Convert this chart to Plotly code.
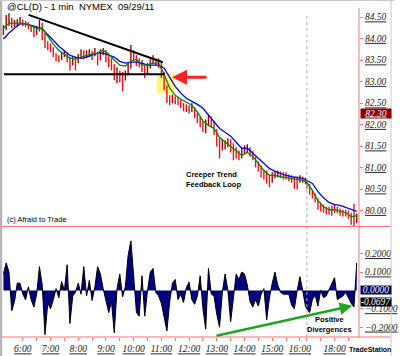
import plotly.graph_objects as go
import pandas as pd

# ---------------- data ----------------
DAY = "2011-09-29 "
CHART_START = pd.Timestamp(DAY + "05:16")
BREAK_START = pd.Timestamp(DAY + "16:15")
BREAK_END = pd.Timestamp(DAY + "17:00")

# 6-minute bars (session 1 then session 2)
session1_times = pd.date_range(DAY + "05:18", DAY + "16:12", freq="6min")
session2_times = pd.date_range(DAY + "17:00", DAY + "18:48", freq="6min")
bar_times = list(session1_times) + list(session2_times)

price_close = [
    84.20, 84.43, 84.48, 84.34, 84.36, 84.38, 84.43, 84.36, 84.34, 84.29,
    84.24, 84.13, 84.17, 84.36, 84.13, 83.87, 83.85, 83.80, 83.66, 83.57,
    83.52, 83.59, 83.66, 83.57, 83.43, 83.50, 83.45, 83.54, 83.66, 83.61,
    83.64, 83.66, 83.61, 83.68, 83.50, 83.66, 83.71, 83.59, 83.45, 83.40,
    83.17, 83.19, 83.15, 83.03, 83.15, 83.31, 83.68, 83.61, 83.45, 83.43,
    83.36, 83.26, 83.31, 83.43, 83.50, 83.45, 83.43, 83.22, 82.91, 82.63,
    82.57, 82.61, 82.57, 82.54, 82.47, 82.40, 82.38, 82.36, 82.38, 82.26,
    82.15, 82.05, 81.94, 81.98, 82.12, 82.08, 81.89, 81.63, 81.52, 81.54,
    81.54, 81.59, 81.56, 81.40, 81.35, 81.28, 81.33, 81.42, 81.45, 81.38,
    81.24, 81.12, 81.03, 80.91, 80.84, 80.77, 80.68, 80.77, 80.84, 80.86,
    80.84, 80.82, 80.82, 80.77, 80.75, 80.70, 80.70, 80.75, 80.72, 80.68,
    80.61, 80.47, 80.37, 80.28, 80.14, 80.07, 80.02, 80.00, 80.00, 80.00,
    80.05, 80.00, 79.95, 79.95, 79.93, 79.91, 79.81, 79.72, 79.84,
]
price_high = [
    84.31, 84.55, 84.59, 84.48, 84.43, 84.45, 84.50, 84.43, 84.41, 84.38,
    84.31, 84.24, 84.27, 84.43, 84.36, 84.13, 83.94, 83.89, 83.80, 83.66,
    83.61, 83.68, 83.73, 83.68, 83.57, 83.59, 83.57, 83.64, 83.75, 83.73,
    83.73, 83.75, 83.71, 83.78, 83.68, 83.75, 83.78, 83.73, 83.59, 83.54,
    83.40, 83.33, 83.26, 83.22, 83.26, 83.45, 83.85, 83.73, 83.61, 83.54,
    83.50, 83.38, 83.43, 83.52, 83.61, 83.54, 83.54, 83.43, 83.22, 82.91,
    82.68, 82.70, 82.66, 82.63, 82.57, 82.50, 82.47, 82.45, 82.50, 82.40,
    82.26, 82.19, 82.08, 82.12, 82.22, 82.19, 82.08, 81.89, 81.68, 81.66,
    81.63, 81.68, 81.66, 81.56, 81.47, 81.40, 81.45, 81.52, 81.54, 81.47,
    81.38, 81.24, 81.14, 81.05, 80.96, 80.93, 80.82, 80.89, 80.93, 80.93,
    80.91, 80.89, 80.89, 80.84, 80.82, 80.79, 80.79, 80.82, 80.79, 80.77,
    80.72, 80.61, 80.49, 80.40, 80.28, 80.19, 80.14, 80.09, 80.09, 80.12,
    80.14, 80.09, 80.05, 80.02, 80.02, 80.00, 79.95, 80.16, 79.93,
]
price_low = [
    84.08, 84.20, 84.29, 84.24, 84.27, 84.29, 84.34, 84.29, 84.27, 84.22,
    84.15, 84.03, 84.08, 84.17, 83.96, 83.78, 83.73, 83.68, 83.57, 83.47,
    83.45, 83.50, 83.57, 83.45, 83.26, 83.38, 83.26, 83.43, 83.54, 83.52,
    83.54, 83.57, 83.50, 83.59, 83.38, 83.50, 83.61, 83.45, 83.33, 83.26,
    83.03, 82.96, 82.98, 82.77, 83.03, 83.15, 83.31, 83.50, 83.36, 83.33,
    83.22, 83.08, 83.15, 83.31, 83.40, 83.36, 83.31, 83.08, 82.80, 82.50,
    82.45, 82.50, 82.47, 82.45, 82.38, 82.31, 82.29, 82.26, 82.29, 82.15,
    82.03, 81.94, 81.82, 81.80, 81.98, 81.94, 81.75, 81.49, 81.21, 81.40,
    81.42, 81.47, 81.35, 81.17, 81.21, 81.17, 81.21, 81.31, 81.35, 81.26,
    81.17, 81.00, 80.91, 80.77, 80.72, 80.63, 80.54, 80.65, 80.75, 80.77,
    80.75, 80.72, 80.72, 80.68, 80.65, 80.51, 80.49, 80.65, 80.65, 80.61,
    80.51, 80.37, 80.28, 80.19, 80.02, 79.98, 79.95, 79.91, 79.91, 79.88,
    79.95, 79.93, 79.88, 79.86, 79.86, 79.81, 79.67, 79.61, 79.72,
]
first_open = 84.10

# moving averages, read every second bar
ma_fast = [
    84.24, 84.36, 84.36, 84.36, 84.34, 84.29, 84.24, 84.24, 84.06, 83.87,
    83.73, 83.64, 83.54, 83.52, 83.57, 83.61, 83.64, 83.66, 83.73, 83.64,
    83.50, 83.38, 83.36, 83.47, 83.52, 83.38, 83.38, 83.43, 83.43, 83.17,
    82.85, 82.68, 82.59, 82.52, 82.45, 82.29, 82.08, 81.98, 81.91, 81.70,
    81.59, 81.49, 81.38, 81.28, 81.35, 81.26, 81.10, 80.93, 80.82, 80.82,
    80.79, 80.77, 80.75, 80.72, 80.70,
    80.65, 80.47, 80.23, 80.09, 80.02, 80.02, 79.98, 79.95, 79.86, 79.88,
]
ma_slow = [
    83.99, 84.13, 84.24, 84.34, 84.34, 84.31, 84.27, 84.22, 84.10, 83.96,
    83.82, 83.71, 83.61, 83.57, 83.54, 83.57, 83.61, 83.66, 83.66, 83.61,
    83.57, 83.47, 83.43, 83.45, 83.45, 83.43, 83.38, 83.38, 83.38, 83.31,
    83.10, 82.89, 82.73, 82.61, 82.54, 82.47, 82.38, 82.22, 82.05, 81.91,
    81.82, 81.73, 81.59, 81.45, 81.45, 81.33, 81.21, 81.10, 80.98, 80.91,
    80.86, 80.82, 80.79, 80.77, 80.75,
    80.70, 80.63, 80.44, 80.30, 80.19, 80.14, 80.12, 80.07, 80.02, 79.98,
]

oscillator = [
    0.09, 0.15, 0.10, -0.11, -0.06, 0.04, 0.04, -0.02, -0.05, 0.02,
    -0.05, -0.09, -0.02, 0.13, 0.03, -0.24, -0.07, -0.10, -0.05, 0.01,
    -0.04, 0.05, 0.00, 0.14, -0.18, -0.03, -0.01, 0.04, -0.02, 0.13,
    -0.03, 0.055, -0.055, 0.02, 0.13, 0.09, 0.01, -0.06, -0.12, -0.06,
    -0.23, 0.01, 0.09, -0.035, 0.02, 0.19, 0.27, 0.08, -0.12, -0.14,
    0.08, -0.14, 0.00, 0.10, 0.12, -0.01, -0.03, -0.07, -0.14, -0.22,
    -0.06, 0.04, 0.06, -0.05, -0.02, -0.065, 0.015, 0.045, -0.05, -0.075,
    -0.03, 0.08, -0.10, -0.21, 0.12, -0.02, -0.03, -0.13, -0.20, -0.01,
    0.09, 0.00, -0.17, -0.02, 0.09, 0.06, 0.10, 0.09, 0.03, -0.06,
    -0.09, -0.05, -0.085, -0.02, 0.01, -0.16, -0.04, 0.04, 0.10, 0.03,
    -0.01, -0.02, -0.02, -0.02, -0.08, -0.10, 0.00, 0.075, 0.00, -0.085,
    -0.10, -0.12, -0.05, -0.025, -0.085, 0.00, -0.04, -0.03, 0.005, 0.035,
    0.07, -0.05, -0.04, -0.03, -0.01, -0.04, -0.07, -0.09, 0.15,
]

hour_tick_times = ["06:00", "07:00", "08:00", "09:00", "10:00", "11:00", "12:00",
                   "13:00", "14:00", "15:00", "16:00", "18:00"]
hour_tick_labels = ["6:00", "7:00", "8:00", "9:00", "10:00", "11:00", "12:00",
                    "13:00", "14:00", "15:00", "16:00", "18:00"]
half_tick_times = ["06:30", "07:30", "08:30", "09:30", "10:30", "11:30", "12:30",
                   "13:30", "14:30", "15:30", "17:00", "17:30", "18:30"]

price_ticks = [80.0, 80.5, 81.0, 81.5, 82.0, 82.5, 83.0, 83.5, 84.0, 84.5]
osc_ticks = [-0.2, -0.1, 0.1, 0.2]

last_price_mark = 82.30
last_osc_mark = -0.0697

title_text = "@CL(D) - 1 min  NYMEX  09/29/11"


# ---------------- helpers ----------------
def chart_minutes(t):
    t = pd.Timestamp(t)
    m = (t - CHART_START).total_seconds() / 60.0
    if t >= BREAK_END:
        m -= (BREAK_END - BREAK_START).total_seconds() / 60.0
    return m


def at(hhmm):
    return chart_minutes(DAY + hhmm)


bar_u = [chart_minutes(t) for t in bar_times]
ma_u = bar_u[::2]
price_open = [first_open] + price_close[:-1]

tick_vals = [at(t) for t in hour_tick_times] + [at(t) for t in half_tick_times]
tick_text = hour_tick_labels + [""] * len(half_tick_times)

AXIS_RED = "#ff7070"
LABEL_FONT = dict(family="Liberation Serif", size=9.5, color="#202020",
                  style="italic", lineposition="under")


# pixel geometry helpers (plot area: x 2..364, y 2..337)
def px_x(p):
    return (p - 2) / 362.0


def px_y(p):
    return (337 - p) / 335.0


fig = go.Figure()

fig.add_trace(go.Ohlc(
    x=bar_u, open=price_open, high=price_high, low=price_low, close=price_close,
    xaxis="x", yaxis="y",
    increasing=dict(line=dict(color="#a00000", width=1.4)),
    decreasing=dict(line=dict(color="#f01010", width=1.4)),
    tickwidth=0.3, hoverinfo="skip",
))
fig.add_trace(go.Scatter(x=ma_u, y=ma_slow, mode="lines", xaxis="x", yaxis="y",
                         line=dict(color="#0000ff", width=1.3), hoverinfo="skip"))
fig.add_trace(go.Scatter(x=ma_u, y=ma_fast, mode="lines", xaxis="x", yaxis="y",
                         line=dict(color="#008800", width=1.3), hoverinfo="skip"))
fig.add_trace(go.Scatter(x=bar_u, y=oscillator, mode="lines", xaxis="x", yaxis="y2",
                         fill="tozeroy", fillcolor="#000080",
                         line=dict(color="black", width=1), hoverinfo="skip"))

shapes = []
# yellow highlight box
shapes.append(dict(type="rect", xref="x", yref="y", x0=334, x1=372.6, y0=82.73, y1=83.19,
                   fillcolor="rgba(250,245,90,0.8)", line=dict(width=0), layer="below"))
# trend lines
shapes.append(dict(type="line", xref="x", yref="y", x0=56.6, y0=84.55, x1=347, y1=83.45,
                   line=dict(color="black", width=2)))
shapes.append(dict(type="line", xref="x", yref="y", x0=3.2, y0=83.17, x1=351, y1=83.17,
                   line=dict(color="black", width=2.2)))
# session break dotted line
shapes.append(dict(type="line", xref="x", yref="paper", x0=at("17:00"), x1=at("17:00"),
                   y0=0, y1=px_y(13), line=dict(color="#b0b0b0", width=1, dash="dot")))
# red panel lines
shapes.append(dict(type="line", xref="paper", yref="paper", x0=0, x1=px_x(396),
                   y0=px_y(226.5), y1=px_y(226.5), line=dict(color=AXIS_RED, width=1)))
shapes.append(dict(type="line", xref="paper", yref="paper", x0=0, x1=px_x(396),
                   y0=px_y(337), y1=px_y(337), line=dict(color=AXIS_RED, width=1)))
shapes.append(dict(type="line", xref="paper", yref="paper", x0=1, x1=1,
                   y0=0, y1=px_y(8), line=dict(color=AXIS_RED, width=1)))
# window frame
shapes.append(dict(type="rect", xref="paper", yref="paper", x0=px_x(0), x1=px_x(2.2),
                   y0=px_y(356), y1=px_y(0), fillcolor="#b4b4b4", line=dict(width=0)))
shapes.append(dict(type="line", xref="paper", yref="paper", x0=px_x(396.5), x1=px_x(396.5),
                   y0=px_y(356), y1=px_y(0), line=dict(color="#c8c8c8", width=1)))
shapes.append(dict(type="line", xref="paper", yref="paper", x0=px_x(0), x1=px_x(400),
                   y0=px_y(0.5), y1=px_y(0.5), line=dict(color="#c8c8c8", width=1)))

SANS = "Liberation Sans"
BOX_FONT = dict(family="Liberation Serif", size=9.5, color="white", style="italic",
                lineposition="under")
annotations = [
    dict(xref="paper", yref="paper", x=px_x(5), y=px_y(6.5), xanchor="left", yanchor="middle",
         text=title_text, showarrow=False, font=dict(family=SANS, size=9.5, color="black")),
    dict(xref="paper", yref="paper", x=px_x(5), y=px_y(219.5), xanchor="left", yanchor="middle",
         text="(c) Afraid to Trade", showarrow=False, font=dict(family=SANS, size=7.5, color="black")),
    dict(xref="paper", yref="paper", x=px_x(187), y=px_y(179.5), xanchor="left", yanchor="middle",
         text="<b>Creeper Trend</b><br><b>Feedback Loop</b>", align="left", showarrow=False,
         font=dict(family=SANS, size=7.5, color="black")),
    dict(xref="paper", yref="paper", x=px_x(334), y=px_y(324), xanchor="center", yanchor="middle",
         text="<b>Positive</b><br><b>Divergences</b>", align="center", showarrow=False,
         font=dict(family=SANS, size=7.5, color="black")),
    dict(xref="paper", yref="paper", x=px_x(375), y=px_y(349), xanchor="center", yanchor="middle",
         text="<b>TradeStation</b>", showarrow=False, font=dict(family=SANS, size=7, color="black")),
    # red arrow
    dict(xref="x", yref="y", x=367, y=83.10, ax=36, ay=0, text="", showarrow=True,
         arrowhead=2, arrowsize=1, arrowwidth=3, arrowcolor="#ff2020",
         font=dict(size=2)),
    # green divergence arrow
    dict(xref="x", yref="y2", x=757, y=-0.0836, axref="x", ayref="y2", ax=460, ay=-0.2475,
         text="", showarrow=True, arrowhead=2, arrowsize=1, arrowwidth=2.5, arrowcolor="#1fa51f",
         font=dict(size=2)),
    # axis value boxes
    dict(xref="paper", yref="y", x=1, y=last_price_mark, xanchor="left", yanchor="middle",
         xshift=0.5, yshift=-1.5, text="82.30", showarrow=False, bgcolor="#8b0000",
         width=30, height=9, borderpad=0, font=BOX_FONT),
    dict(xref="paper", yref="y2", x=1, y=0, xanchor="left", yanchor="middle",
         xshift=0.5, text="0.0000", showarrow=False, bgcolor="#000060", width=30, height=8,
         borderpad=0, font=BOX_FONT),
    dict(xref="paper", yref="y2", x=1, y=last_osc_mark, xanchor="left", yanchor="middle",
         xshift=0.5, yshift=1, text="-0.0697", showarrow=False, bgcolor="#000000",
         width=30, height=8, borderpad=0, font=BOX_FONT),
]

fig.update_layout(
    width=400, height=356,
    margin=dict(l=2, r=36, t=2, b=19, pad=0),
    paper_bgcolor="white", plot_bgcolor="white",
    showlegend=False,
    xaxis=dict(domain=[0, 1], range=[-1.07, 771.9], anchor="y2",
               tickvals=tick_vals, ticktext=tick_text, ticks="outside", ticklen=3,
               tickcolor=AXIS_RED, tickfont=LABEL_FONT, showgrid=False, zeroline=False,
               showline=False, rangeslider=dict(visible=False), fixedrange=True),
    yaxis=dict(domain=[px_y(226.5), 1], range=[79.63, 84.85], side="right", anchor="x",
               tickvals=price_ticks, tickformat=".2f", ticks="outside", ticklen=3,
               tickcolor=AXIS_RED, tickfont=LABEL_FONT, showgrid=False, zeroline=False,
               showline=False),
    yaxis2=dict(domain=[0, px_y(226.5)], range=[-0.253, 0.348], side="right", anchor="x",
                tickvals=osc_ticks, tickformat=".4f", ticks="outside", ticklen=3,
                tickcolor=AXIS_RED, tickfont=LABEL_FONT, showgrid=False, zeroline=False,
                showline=False),
    shapes=shapes,
    annotations=annotations,
)

fig.write_html("out.html", config={"displayModeBar": False},
               post_script="document.body.style.margin='0';")
